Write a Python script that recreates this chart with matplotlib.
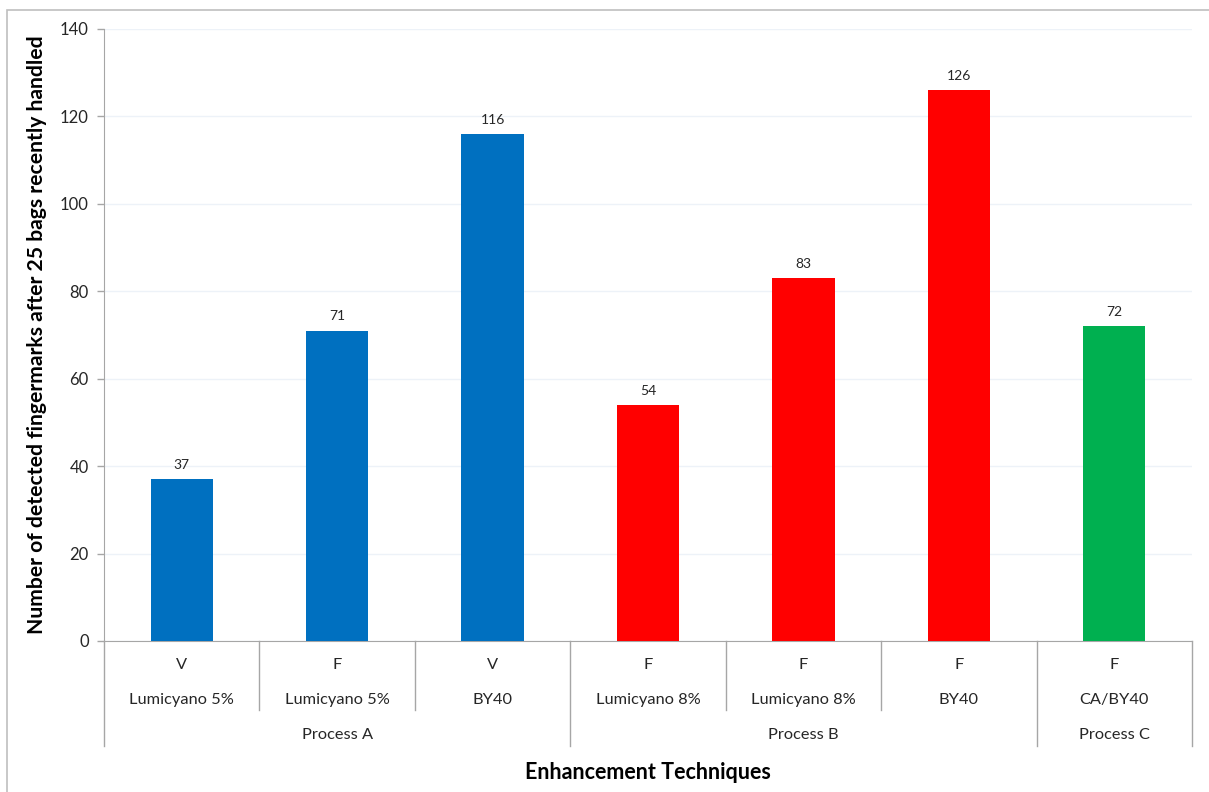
import matplotlib.pyplot as plt
from matplotlib.patches import Rectangle
import matplotlib.transforms as mtransforms

plt.rcParams['font.family'] = ['Lato', 'DejaVu Sans']

# data
methods = ["V", "F", "V", "F", "F", "F", "F"]
reagents = ["Lumicyano 5%", "Lumicyano 5%", "BY40", "Lumicyano 8%", "Lumicyano 8%", "BY40", "CA/BY40"]
processes = ["Process A", "Process B", "Process C"]
process_sizes = [3, 3, 1]
values = [37, 71, 116, 54, 83, 126, 72]
process_colors = ["#0070C0", "#FF0000", "#00B050"]

bar_colors = []
for c, n in zip(process_colors, process_sizes):
    bar_colors += [c] * n

axis_gray = "#A6A6A6"
text_col = "#262626"

fig = plt.figure(figsize=(12.09, 7.92), dpi=100)
ax = fig.add_axes([0.086, 0.1907, 0.900, 0.7727])

x = list(range(len(values)))
bars = ax.bar(x, values, width=0.4, color=bar_colors, zorder=3)
for b, v in zip(bars, values):
    ax.annotate(str(v), (b.get_x() + b.get_width() / 2, v), xytext=(0, 6),
                textcoords="offset points", ha="center", va="bottom",
                fontsize=10, color=text_col)

ax.set_xlim(-0.5, len(values) - 0.5)
ax.set_ylim(0, 140)
ax.set_yticks(range(0, 141, 20))
ax.yaxis.grid(True, color="#EDF2F8", linewidth=1, zorder=0)
ax.tick_params(axis="y", labelsize=12, labelcolor=text_col, color=axis_gray,
               length=5, width=1, pad=6)
ax.set_xticks([])
for s in ["top", "right"]:
    ax.spines[s].set_visible(False)
ax.spines["left"].set_color(axis_gray)
ax.spines["bottom"].set_color(axis_gray)

ax.set_ylabel("Number of detected fingermarks after 25 bags recently handled",
              fontsize=15.2, fontweight="bold", color="black", labelpad=9)

# multi-level category axis
trans = mtransforms.blended_transform_factory(ax.transData, ax.transAxes)
inner_y = -0.1127
outer_y = -0.1716
for i in range(len(values)):
    ax.text(i, -0.039, methods[i], transform=trans, ha="center", va="center",
            fontsize=11.8, color=text_col)
    ax.text(i, -0.096, reagents[i], transform=trans, ha="center", va="center",
            fontsize=11.8, color=text_col)

start = 0
bounds = [-0.5]
for p, n in zip(processes, process_sizes):
    ax.text(start + (n - 1) / 2, -0.154, p, transform=trans, ha="center",
            va="center", fontsize=11.8, color=text_col)
    for k in range(1, n):
        ax.plot([start + k - 0.5] * 2, [0, inner_y], transform=trans,
                color=axis_gray, lw=1, clip_on=False)
    start += n
    bounds.append(start - 0.5)
for bx in bounds:
    ax.plot([bx, bx], [0, outer_y], transform=trans, color=axis_gray, lw=1,
            clip_on=False)

fig.text(0.536, 0.024, "Enhancement Techniques", ha="center", va="center",
         fontsize=15.5, fontweight="bold", color="black")

# chart border
fig.patches.append(Rectangle((7 / 1209, -0.1), 1.2, 1 - 10 / 792 + 0.1,
                             transform=fig.transFigure, fill=False,
                             edgecolor="#BFBFBF", lw=1.2))

fig.savefig("out.png", dpi=100)
